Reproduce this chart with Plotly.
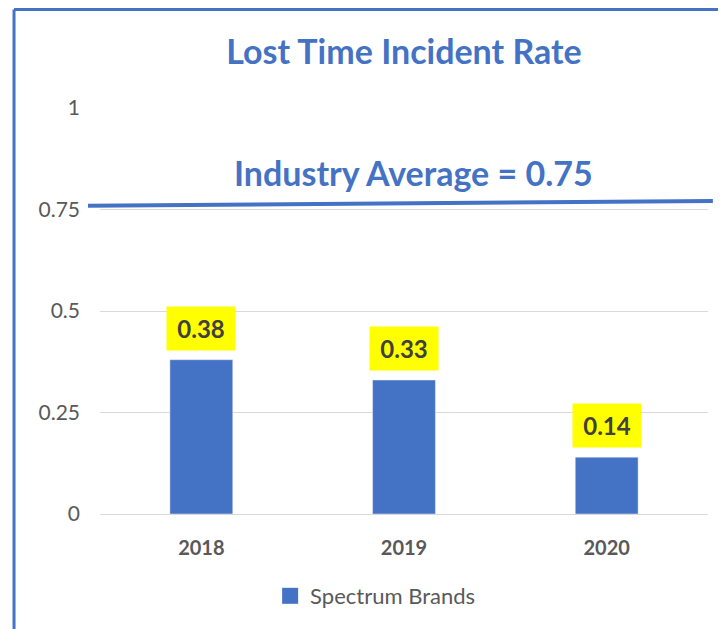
import plotly.graph_objects as go

years = ["2018", "2019", "2020"]
rates = [0.38, 0.33, 0.14]
rate_labels = ["0.38", "0.33", "0.14"]
industry_avg = 0.75
y_ticks = [0, 0.25, 0.5, 0.75, 1]
y_tick_labels = ["0", "0.25", "0.5", "0.75", "1"]
series_name = "Spectrum Brands"

BLUE = "#4472C4"
FONT = "Lato"
W, H = 718, 621  # page has an 8px body margin

fig = go.Figure()
fig.add_trace(go.Bar(x=years, y=rates, name=series_name, marker_color=BLUE,
                     width=0.31, showlegend=False))
# legend entry with a larger square swatch
fig.add_trace(go.Scatter(x=[None], y=[None], mode="markers", name=series_name,
                         marker=dict(symbol="square", size=16, color=BLUE),
                         showlegend=True))

annotations = []
for i, (v, lab) in enumerate(zip(rates, rate_labels)):
    # on a category axis, numeric x is the category index
    annotations.append(dict(x=i, y=v, xref="x", yref="y", text="<b>" + lab + "</b>",
                            showarrow=False, yanchor="bottom", yshift=9,
                            bgcolor="#FFFF00", borderpad=8, width=52, height=27,
                            font=dict(family=FONT, size=24, color="#404040")))
annotations.append(dict(x=0.516, y=0.842, xref="paper", yref="y",
                        text="<b>Industry Average = " + str(industry_avg) + "</b>",
                        showarrow=False, yanchor="middle",
                        font=dict(family=FONT, size=34, color=BLUE)))

shapes = [
    dict(type="line", xref="paper", yref="y", x0=-0.0197, x1=1.008,
         y0=industry_avg + 0.009, y1=industry_avg + 0.021,
         line=dict(color=BLUE, width=4)),
    # chart border (left and top)
    dict(type="line", xref="paper", yref="paper", x0=-0.1414, x1=-0.1414, y0=1.2426, y1=-0.4,
         line=dict(color=BLUE, width=3)),
    dict(type="line", xref="paper", yref="paper", x0=-0.1414, x1=1.2, y0=1.2426, y1=1.2426,
         line=dict(color=BLUE, width=3)),
]

fig.update_layout(
    width=W, height=H,
    margin=dict(l=92, r=18, t=100, b=115, autoexpand=False),
    paper_bgcolor="white", plot_bgcolor="white",
    title=dict(text="<b>Lost Time Incident Rate</b>", x=0.5, xref="paper",
               y=1 - 44 / H, yref="container", yanchor="middle", xanchor="center",
               font=dict(family=FONT, size=34, color=BLUE)),
    showlegend=True,
    legend=dict(orientation="h", x=0.4525, xanchor="center", y=-0.202, yanchor="middle",
                font=dict(family=FONT, size=22, color="#595959"), itemwidth=30),
    annotations=annotations,
    shapes=shapes,
)
fig.update_yaxes(range=[0, 1], tickvals=y_ticks, ticktext=y_tick_labels,
                 showgrid=True, gridcolor="#D9D9D9", gridwidth=1,
                 zeroline=True, zerolinecolor="#D9D9D9", zerolinewidth=1,
                 tickfont=dict(family=FONT, size=21, color="#595959"),
                 ticklabelstandoff=19, showline=False, automargin=False)
fig.update_xaxes(type="category", categoryorder="array", categoryarray=years,
                 range=[-0.5, len(years) - 0.5],
                 tickfont=dict(family=FONT, size=20, color="#595959", weight="bold"),
                 ticks="outside", ticklen=16, tickcolor="rgba(0,0,0,0)",
                 showgrid=False, showline=False, automargin=False)

fig.write_html("out.html")
